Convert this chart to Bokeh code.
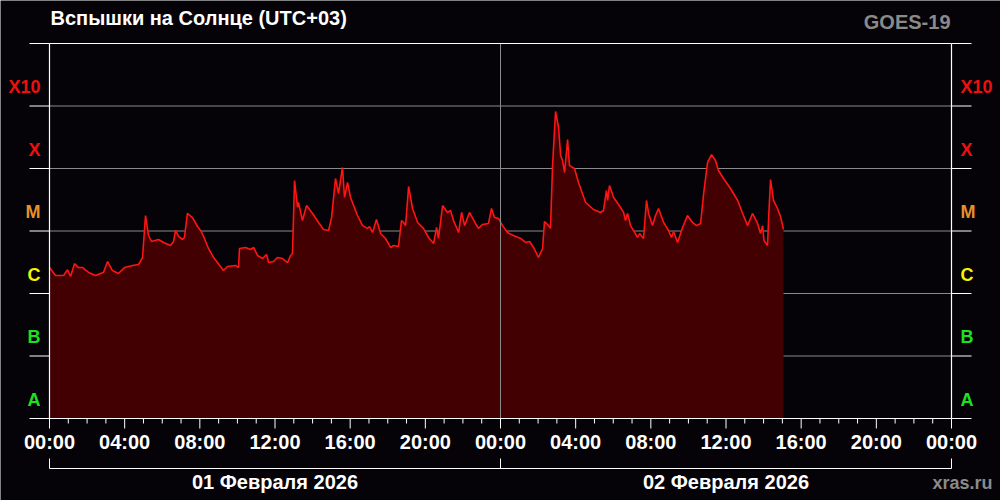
from bokeh.plotting import figure
from bokeh.models import Range1d, ColumnDataSource
from bokeh.core.properties import value
from bokeh.embed import file_html
from bokeh.resources import INLINE

# ---- data: hours since 01 Feb 2026 00:00 (UTC+03), X-ray flux W/m^2 ----
hours = [0.00, 0.32, 0.75, 0.96, 1.12, 1.33, 1.54, 1.76, 2.08, 2.45, 2.71, 2.87, 3.09, 3.35,
         3.67, 3.99, 4.42, 4.74, 4.95, 5.11, 5.27, 5.43, 5.80, 6.07, 6.44, 6.60, 6.71, 6.87,
         7.08, 7.18, 7.34, 7.61, 7.88, 8.04, 8.20, 8.46, 8.73, 8.99, 9.26, 9.47, 9.90, 10.06,
         10.11, 10.43, 10.70, 10.86, 11.07, 11.34, 11.55, 11.66, 11.92, 12.13, 12.40, 12.67,
         12.83, 12.93, 13.04, 13.20, 13.25, 13.46, 13.68, 14.00, 14.32, 14.58, 14.85, 15.01,
         15.22, 15.38, 15.59, 15.70, 15.86, 16.02, 16.39, 16.66, 16.92, 17.03, 17.19, 17.40,
         17.62, 17.88, 18.15, 18.31, 18.57, 18.73, 18.84, 18.95, 19.11, 19.32, 19.59, 19.80,
         19.90, 20.17, 20.44, 20.60, 20.70, 20.92, 21.18, 21.34, 21.50, 21.77, 21.93, 22.09,
         22.35, 22.67, 22.83, 23.04, 23.36, 23.52, 23.68, 23.90, 24.11, 24.37, 24.69, 25.07,
         25.33, 25.55, 25.76, 26.02, 26.24, 26.34, 26.56, 26.66, 26.77, 26.93, 27.09, 27.20,
         27.30, 27.41, 27.57, 27.67, 27.83, 27.94, 28.15, 28.53, 28.95, 29.32, 29.48, 29.64,
         29.70, 29.80, 30.02, 30.39, 30.55, 30.65, 30.76, 30.92, 31.08, 31.29, 31.40, 31.61,
         31.77, 31.88, 32.09, 32.25, 32.41, 32.68, 32.94, 33.10, 33.21, 33.42, 33.69, 33.95,
         34.22, 34.43, 34.65, 34.81, 35.02, 35.23, 35.44, 35.60, 35.87, 36.24, 36.62, 36.93,
         37.15, 37.41, 37.68, 37.84, 37.95, 38.02, 38.21, 38.27, 38.37, 38.53, 38.74, 38.90,
         39.06]
flux = [2.6e-6, 1.94e-6, 1.94e-6, 2.4e-6, 1.87e-6, 3.0e-6, 2.6e-6, 2.6e-6, 2.17e-6, 1.94e-6,
        2.09e-6, 2.17e-6, 3.25e-6, 2.33e-6, 2.09e-6, 2.6e-6, 2.81e-6, 2.91e-6, 3.77e-6, 1.77e-5,
        8.47e-6, 6.79e-6, 7.31e-6, 6.55e-6, 5.86e-6, 6.79e-6, 1.02e-5, 8.17e-6, 7.31e-6, 7.87e-6,
        1.91e-5, 1.64e-5, 1.18e-5, 1.02e-5, 8.17e-6, 5.25e-6, 3.77e-6, 3.0e-6, 2.33e-6, 2.70e-6,
        2.81e-6, 2.6e-6, 5.25e-6, 5.45e-6, 5.06e-6, 5.45e-6, 4.06e-6, 3.63e-6, 4.21e-6, 3.13e-6,
        3.25e-6, 3.77e-6, 3.63e-6, 3.13e-6, 4.06e-6, 4.37e-6, 6.43e-5, 2.38e-5, 2.86e-5, 1.47e-5,
        2.56e-5, 1.91e-5, 1.37e-5, 1.06e-5, 1.02e-5, 1.64e-5, 6.92e-5, 3.98e-5, 1.04e-4, 3.44e-5,
        5.97e-5, 3.44e-5, 1.77e-5, 1.22e-5, 1.10e-5, 1.18e-5, 9.46e-6, 1.53e-5, 9.12e-6, 7.59e-6,
        5.45e-6, 5.86e-6, 5.65e-6, 1.47e-5, 1.37e-5, 1.22e-5, 5.15e-5, 2.29e-5, 1.37e-5, 1.18e-5,
        1.10e-5, 7.87e-6, 6.31e-6, 1.14e-5, 7.59e-6, 2.56e-5, 1.98e-5, 2.13e-5, 1.47e-5, 9.46e-6,
        1.98e-5, 1.22e-5, 1.98e-5, 1.32e-5, 1.10e-5, 1.27e-5, 1.32e-5, 2.29e-5, 1.64e-5, 1.58e-5,
        1.22e-5, 9.46e-6, 8.47e-6, 7.59e-6, 6.55e-6, 6.79e-6, 5.45e-6, 3.77e-6, 5.25e-6, 1.42e-5,
        1.22e-5, 1.10e-5, 1.12e-4, 8.17e-4, 4.53e-4, 1.61e-4, 1.34e-4, 8.63e-5, 2.91e-4, 1.12e-4,
        1.04e-4, 1.00e-4, 5.97e-5, 2.86e-5, 2.21e-5, 1.98e-5, 2.13e-5, 4.45e-5, 3.08e-5, 5.35e-5,
        3.44e-5, 2.38e-5, 1.98e-5, 1.47e-5, 1.91e-5, 1.22e-5, 1.02e-5, 7.87e-6, 9.12e-6, 7.59e-6,
        3.08e-5, 1.91e-5, 1.22e-5, 1.77e-5, 2.29e-5, 1.37e-5, 1.02e-5, 7.87e-6, 9.82e-6, 6.55e-6,
        1.14e-5, 1.77e-5, 1.37e-5, 1.22e-5, 1.32e-5, 3.98e-5, 1.25e-4, 1.67e-4, 1.34e-4, 9.29e-5,
        6.92e-5, 4.79e-5, 3.08e-5, 1.77e-5, 1.22e-5, 1.91e-5, 1.32e-5, 9.12e-6, 1.22e-5, 7.05e-6,
        5.86e-6, 1.64e-5, 6.67e-5, 3.08e-5, 2.29e-5, 1.71e-5, 1.06e-5]

tick_hours = [0, 4, 8, 12, 16, 20, 24, 28, 32, 36, 40, 44, 48]
tick_labels = ["00:00", "04:00", "08:00", "12:00", "16:00", "20:00", "00:00",
               "04:00", "08:00", "12:00", "16:00", "20:00", "00:00"]
minor_hours = list(range(0, 49))
day_edges = [0, 24, 48]
day_centers = [12, 36]
day_labels = ["01 Февраля 2026", "02 Февраля 2026"]

class_names = ["A", "B", "C", "M", "X", "X10"]
class_floor = [1e-8, 1e-7, 1e-6, 1e-5, 1e-4, 1e-3]
class_colors = ["#1fe01f", "#1fe01f", "#f5f500", "#e8902a", "#ee1010", "#ee1010"]
decades = class_floor + [1e-2]

title_text = "Вспышки на Солнце (UTC+03)"
source_text = "GOES-19"
site_text = "xras.ru"

# ---- layout (pixels) ----
W, H = 1000, 500
PL, PR, PT, PB = 49, 951, 43, 418          # plot box
T0, T1 = 0, 48                              # hours shown
D0, D1 = -8, -2                             # log10 flux shown
HPX = (T1 - T0) / (PR - PL)                 # hours per pixel
DPX = (D1 - D0) / (PB - PT)                 # decades per pixel


def hx(base, px):
    return base + px * HPX


def ly(base, px_up):
    return base * 10 ** (px_up * DPX)


BG = "#050307"
GRID = "#8a8a8a"
FONT = value("Liberation Sans")
LO, HI = 10.0 ** D0, 10.0 ** D1

p = figure(width=W, height=H,
           x_range=Range1d(hx(T0, -PL), hx(T1, W - PR)),
           y_range=Range1d(ly(LO, -(H - PB)), ly(HI, PT)),
           y_axis_type="log", x_axis_location=None, y_axis_location=None,
           min_border=0, min_border_left=0, min_border_right=0,
           min_border_top=0, min_border_bottom=0,
           output_backend="svg", toolbar_location=None,
           background_fill_color=BG, border_fill_color=BG, outline_line_color=None)
p.center = []

# grid (inside) and outer decade ticks
inner = decades[1:-1]
p.segment(x0=T0, x1=T1, y0=inner, y1=inner, line_color=GRID, line_width=1)
p.segment(x0=hx(T0, -20), x1=T0, y0=decades, y1=decades, line_color="white", line_width=1)
p.segment(x0=T1, x1=hx(T1, 20), y0=decades, y1=decades, line_color="white", line_width=1)

# data
src = ColumnDataSource(dict(h=hours, f=flux))
p.varea(x="h", y1=LO, y2="f", source=src, fill_color="#420003")
p.line(x="h", y="f", source=src, line_color="#ff1414", line_width=1.6)

# midnight line
p.segment(x0=[24], x1=[24], y0=[LO], y1=[HI], line_color=GRID, line_width=1)

# frame
p.segment(x0=[T0, T1, T0, T0], x1=[T0, T1, T1, T1], y0=[LO, LO, HI, LO],
          y1=[HI, HI, HI, LO], line_color="white", line_width=1.2)

# time ticks
minor_only = [h for h in minor_hours if h not in tick_hours]
p.segment(x0=minor_only, x1=minor_only, y0=LO, y1=ly(LO, -5), line_color="white", line_width=1)
p.segment(x0=tick_hours, x1=tick_hours, y0=LO, y1=ly(LO, -10), line_color="white", line_width=1)
p.text(x=tick_hours, y=[ly(LO, -23.5)] * len(tick_hours), text=tick_labels,
       text_align="center", text_baseline="middle", text_font=FONT,
       text_font_style="bold", text_font_size=value("20px"), text_color="white")

# day brackets
p.segment(x0=[T0], x1=[T1], y0=[ly(LO, -50)], y1=[ly(LO, -50)], line_color="white", line_width=1)
p.segment(x0=day_edges, x1=day_edges, y0=ly(LO, -50), y1=ly(LO, -40), line_color="white", line_width=1)
p.text(x=day_centers, y=[ly(LO, -63.5)] * 2, text=day_labels,
       text_align="center", text_baseline="middle", text_font=FONT,
       text_font_style="bold", text_font_size=value("20px"), text_color="white")

# class labels
ys = [2 * b for b in class_floor]
p.text(x=[hx(T0, -9)] * 6, y=ys, text=class_names, text_color=class_colors,
       text_align="right", text_baseline="middle", text_font=FONT,
       text_font_style="bold", text_font_size=value("18px"))
p.text(x=[hx(T1, 9)] * 6, y=ys, text=class_names, text_color=class_colors,
       text_align="left", text_baseline="middle", text_font=FONT,
       text_font_style="bold", text_font_size=value("18px"))

# titles
p.text(x=[hx(T0, 1)], y=[ly(HI, 25.5)], text=[title_text], text_align="left",
       text_baseline="middle", text_font=FONT, text_font_style="bold",
       text_font_size=value("20px"), text_color="white")
p.text(x=[hx(T1, -1)], y=[ly(HI, 21.5)], text=[source_text], text_align="right",
       text_baseline="middle", text_font=FONT, text_font_style="bold",
       text_font_size=value("20px"), text_color="#8a8a8a")
p.text(x=[hx(T1, 41)], y=[ly(LO, -64)], text=[site_text], text_align="right",
       text_baseline="middle", text_font=FONT, text_font_style="bold",
       text_font_size=value("18px"), text_color="#8a8a8a")

open("out.html", "w").write(file_html(p, INLINE))
